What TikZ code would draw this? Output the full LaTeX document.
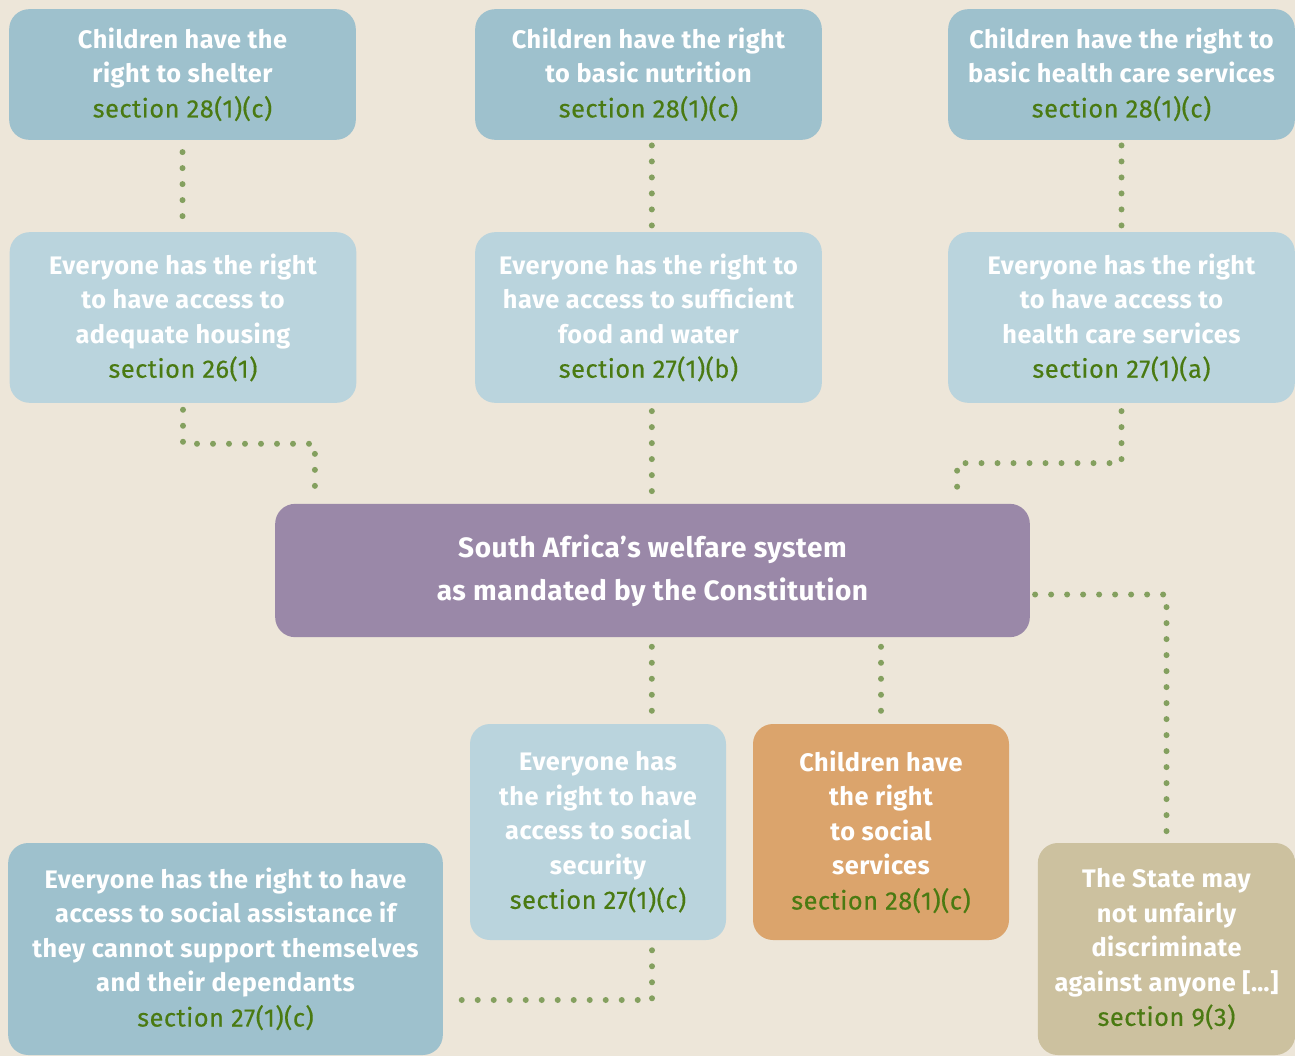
\documentclass[tikz,border=0pt]{standalone}
\usepackage{fontspec}
\setmainfont{Fira Sans}[LetterSpace=2]
\newfontfamily\secfont{Fira Sans}[LetterSpace=2, FakeBold=0.4]
\usetikzlibrary{calc}

\definecolor{bgcream}{HTML}{EDE6D9}
\definecolor{topblue}{HTML}{9EC1CD}
\definecolor{lightblue}{HTML}{BAD4DD}
\definecolor{mainpurple}{HTML}{9A88A8}
\definecolor{childorange}{HTML}{DBA46C}
\definecolor{statetan}{HTML}{CCC19F}
\definecolor{secgreen}{HTML}{4A7A12}
\definecolor{dotgreen}{HTML}{84A05F}

\newcommand{\sectline}[1]{\\\textcolor{secgreen}{\secfont\mdseries #1}}

\begin{document}
\begin{tikzpicture}[x=0.75pt, y=-0.75pt,
    box/.style={rounded corners=15pt, text=white, align=center, inner sep=0pt,
        font=\bfseries\fontsize{19}{25.9}\selectfont},
    widebox/.style={box, minimum width=260pt},
    smallbox/.style={box, minimum width=192pt, minimum height=162pt},
    dotline/.style={dotgreen, line width=4.5pt, line cap=round, dash pattern=on 0pt off 12pt}]
    \fill[bgcream] (0,0) rectangle (1295,1056);
    \useasboundingbox (0,0) rectangle (1295,1056);

    \node[widebox, fill=topblue, minimum height=98pt] (shelter) at (182.5,74.5)
        {Children have the\\right to shelter\sectline{section 28(1)(c)}};
    \node[widebox, fill=topblue, minimum height=98pt] (nutrition) at (648.5,74.5)
        {Children have the right\\to basic nutrition\sectline{section 28(1)(c)}};
    \node[widebox, fill=topblue, minimum height=98pt] (carebasic) at (1121.5,74.5)
        {Children have the right to\\basic health care services\sectline{section 28(1)(c)}};

    \node[widebox, fill=lightblue, minimum height=128pt] (housing) at (183,317.5)
        {Everyone has the right\\to have access to\\adequate housing\sectline{section 26(1)}};
    \node[widebox, fill=lightblue, minimum height=128pt] (food) at (648.5,317.5)
        {Everyone has the right to\\have access to sufficient\\food and water\sectline{section 27(1)(b)}};
    \node[widebox, fill=lightblue, minimum height=128pt] (healthserv) at (1121.5,317.5)
        {Everyone has the right\\to have access to\\health care services\sectline{section 27(1)(a)}};

    \node[box, fill=mainpurple, minimum width=566pt, minimum height=100pt,
        font=\bfseries\fontsize{21}{32}\selectfont] (welfare) at (652.5,570.5)
        {South Africa’s welfare system\\as mandated by the Constitution};

    \node[smallbox, fill=lightblue] (security) at (598,832)
        {Everyone has\\the right to have\\access to social\\security\sectline{section 27(1)(c)}};
    \node[smallbox, fill=childorange] (services) at (881,832)
        {Children have\\the right\\to social\\services\sectline{section 28(1)(c)}};

    \node[box, fill=topblue, minimum width=326pt, minimum height=159pt] (assistance) at (225.5,949)
        {Everyone has the right to have\\access to social assistance if\\they cannot support themselves\\and their dependants\sectline{section 27(1)(c)}};
    \node[box, fill=statetan, minimum width=193pt, minimum height=159pt] (state) at (1166.5,949)
        {The State may\\not unfairly\\discriminate\\against anyone [\dots]\sectline{section 9(3)}};

    \draw[dotline, shorten <=9pt, shorten >=9pt] (shelter.south) -- (shelter.south |- housing.north);
    \draw[dotline, shorten <=4pt, shorten >=4pt] ([xshift=2.5pt]nutrition.south) -- ([xshift=2.5pt]food.north);
    \draw[dotline, shorten <=4pt, shorten >=4pt] (carebasic.south) -- (healthserv.north);
    \draw[dotline] ([yshift=-5pt]housing.south) -- ++(0,34) -| ($(welfare.north west)+(40,-7)$);
    \draw[dotline, shorten <=6pt, shorten >=6pt] ([xshift=2.5pt]food.south) -- ([xshift=2.5pt]food.south |- welfare.north);
    \draw[dotline] ([yshift=-6pt]healthserv.south) -- ++(0,52) -| ($(welfare.north east)+(-73,-8)$);
    \draw[dotline] ($(welfare.east)+(5,24)$) -| ($(state.north)+(0,-11)$);
    \draw[dotline, shorten <=7pt, shorten >=7pt] ([xshift=2.5pt]food.south |- welfare.south) -- ([xshift=2.5pt]food.south |- security.north);
    \draw[dotline, shorten <=7pt, shorten >=7pt] (services.north |- welfare.south) -- (services.north);
    \draw[dotline] ($(food.south |- security.south)+(3.5,10)$) |- ($(assistance.east |- 0,1000)+(9,0)$);
\end{tikzpicture}
\end{document}
